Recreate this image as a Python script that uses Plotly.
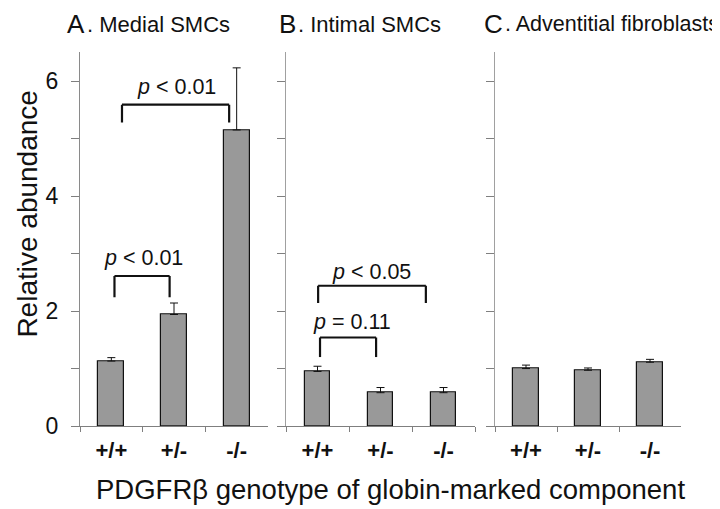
import plotly.graph_objects as go

# ---- data ----
genotypes = ["+/+", "+/-", "-/-"]
panel_titles = ["A", "B", "C"]
panel_names = [". Medial SMCs", ". Intimal SMCs", ". Adventitial fibroblasts"]
medial_mean = [1.13, 1.94, 5.15]
medial_err = [0.06, 0.20, 1.08]
intimal_mean = [0.95, 0.58, 0.58]
intimal_err = [0.09, 0.09, 0.09]
advent_mean = [1.00, 0.97, 1.11]
advent_err = [0.06, 0.04, 0.05]
y_tick_vals = [0, 1, 2, 3, 4, 5, 6]
y_tick_text = ["0", "", "2", "", "4", "", "6"]
# comparisons: (panel index, from idx, to idx, label)
comparisons = [
    (0, 0, 1, "<i>p</i> < 0.01"),
    (0, 0, 2, "<i>p</i> < 0.01"),
    (1, 0, 2, "<i>p</i> < 0.05"),
    (1, 0, 1, "<i>p</i> = 0.11"),
]

means = [medial_mean, intimal_mean, advent_mean]
errs = [medial_err, intimal_err, advent_err]

W, H = 720, 509
FONT = "Liberation Sans, Arial, sans-serif"
x_px = [(72, 260), (278, 467), (487, 673)]
y0_px, y1_px = 429, 45.5
ydom = [(H - y0_px) / H, (H - y1_px) / H]
YMAX = 6.5
title_split_x = [78, 289, 496]
title_size = [22, 22, 21.5]

fig = go.Figure()
for i in range(3):
    sfx = "" if i == 0 else str(i + 1)
    fig.add_trace(go.Bar(
        x=genotypes, y=means[i], width=0.41,
        marker=dict(color="#999999", line=dict(color="#111111", width=1.2)),
        error_y=dict(type="data", symmetric=False, array=errs[i],
                     arrayminus=[0] * 3, color="#111111", thickness=1, width=4),
        xaxis="x" + sfx, yaxis="y" + sfx, showlegend=False,
    ))
    xd = [x_px[i][0] / W, x_px[i][1] / W]
    fig.layout["xaxis" + sfx] = dict(
        domain=xd, anchor="y" + sfx, type="category", range=[-0.5, 2.5],
        showline=True, linecolor="#7f7f7f", linewidth=1, ticks="outside",
        tickson="boundaries", ticklen=5, tickcolor="#7f7f7f", showgrid=False,
        zeroline=False, tickfont=dict(family=FONT, size=22, color="#111111"),
        tickprefix="<b>", ticksuffix="</b>", ticklabelstandoff=5, fixedrange=True,
    )
    fig.layout["yaxis" + sfx] = dict(
        domain=ydom, anchor="x" + sfx, range=[0, YMAX],
        showline=True, linecolor="#8a8a8a" if i == 0 else "#a0a0a0", linewidth=1,
        ticks="outside", ticklen=8, tickcolor="#7f7f7f",
        tickvals=y_tick_vals,
        ticktext=y_tick_text if i == 0 else [""] * len(y_tick_vals),
        showgrid=False, zeroline=False, ticklabelstandoff=8,
        tickfont=dict(family=FONT, size=23, color="#111111"), fixedrange=True,
    )
    # panel title: large letter + name
    fig.add_annotation(
        text=panel_titles[i], xref="paper", yref="paper",
        x=title_split_x[i] / W, y=1, xanchor="right", yanchor="top",
        showarrow=False, borderpad=0,
        font=dict(family=FONT, size=26, color="#111111"),
    )
    fig.add_annotation(
        text=panel_names[i], xref="paper", yref="paper",
        x=title_split_x[i] / W, y=1, yshift=-3, xanchor="left", yanchor="top",
        showarrow=False, borderpad=0,
        font=dict(family=FONT, size=title_size[i], color="#111111"),
    )

# brackets: geometry per comparison (x start, x end, top y, leg y, label y, label x)
bracket_geom = [
    (0.05, 0.93, 2.61, 2.24, 2.93, 0.52),
    (0.17, 1.88, 5.59, 5.28, 5.90, 1.04),
    (0.01, 1.72, 2.44, 2.14, 2.68, 0.85),
    (0.04, 0.93, 1.54, 1.20, 1.81, 0.55),
]
for (pi, a, b, label), (x0, x1, yt, yl, ylab, xlab) in zip(comparisons, bracket_geom):
    sfx = "" if pi == 0 else str(pi + 1)
    xr, yr = "x" + sfx, "y" + sfx
    ln = dict(color="#111111", width=2.2)
    fig.add_shape(type="line", xref=xr, yref=yr, x0=x0, x1=x1, y0=yt, y1=yt, line=ln)
    fig.add_shape(type="line", xref=xr, yref=yr, x0=x0, x1=x0, y0=yl, y1=yt, line=ln)
    fig.add_shape(type="line", xref=xr, yref=yr, x0=x1, x1=x1, y0=yl, y1=yt, line=ln)
    fig.add_annotation(text=label, xref=xr, yref=yr, x=xlab, y=ylab, showarrow=False,
                       font=dict(family=FONT, size=21.5, color="#111111"))

# axis titles
fig.add_annotation(text="Relative abundance", xref="paper", yref="paper",
                   x=20 / W, y=(H - 211) / H, textangle=-90, showarrow=False,
                   xanchor="center", yanchor="middle",
                   font=dict(family=FONT, size=28, color="#111111"))
fig.add_annotation(text="PDGFRβ genotype of globin-marked component", xref="paper",
                   yref="paper", x=382 / W, y=(H - 494) / H, showarrow=False,
                   xanchor="center", yanchor="middle",
                   font=dict(family=FONT, size=27.5, color="#111111"))

fig.update_layout(
    width=W, height=H, margin=dict(l=0, r=0, t=0, b=0), autosize=False,
    plot_bgcolor="white", paper_bgcolor="white", bargap=0,
)
fig.write_html("out.html")
